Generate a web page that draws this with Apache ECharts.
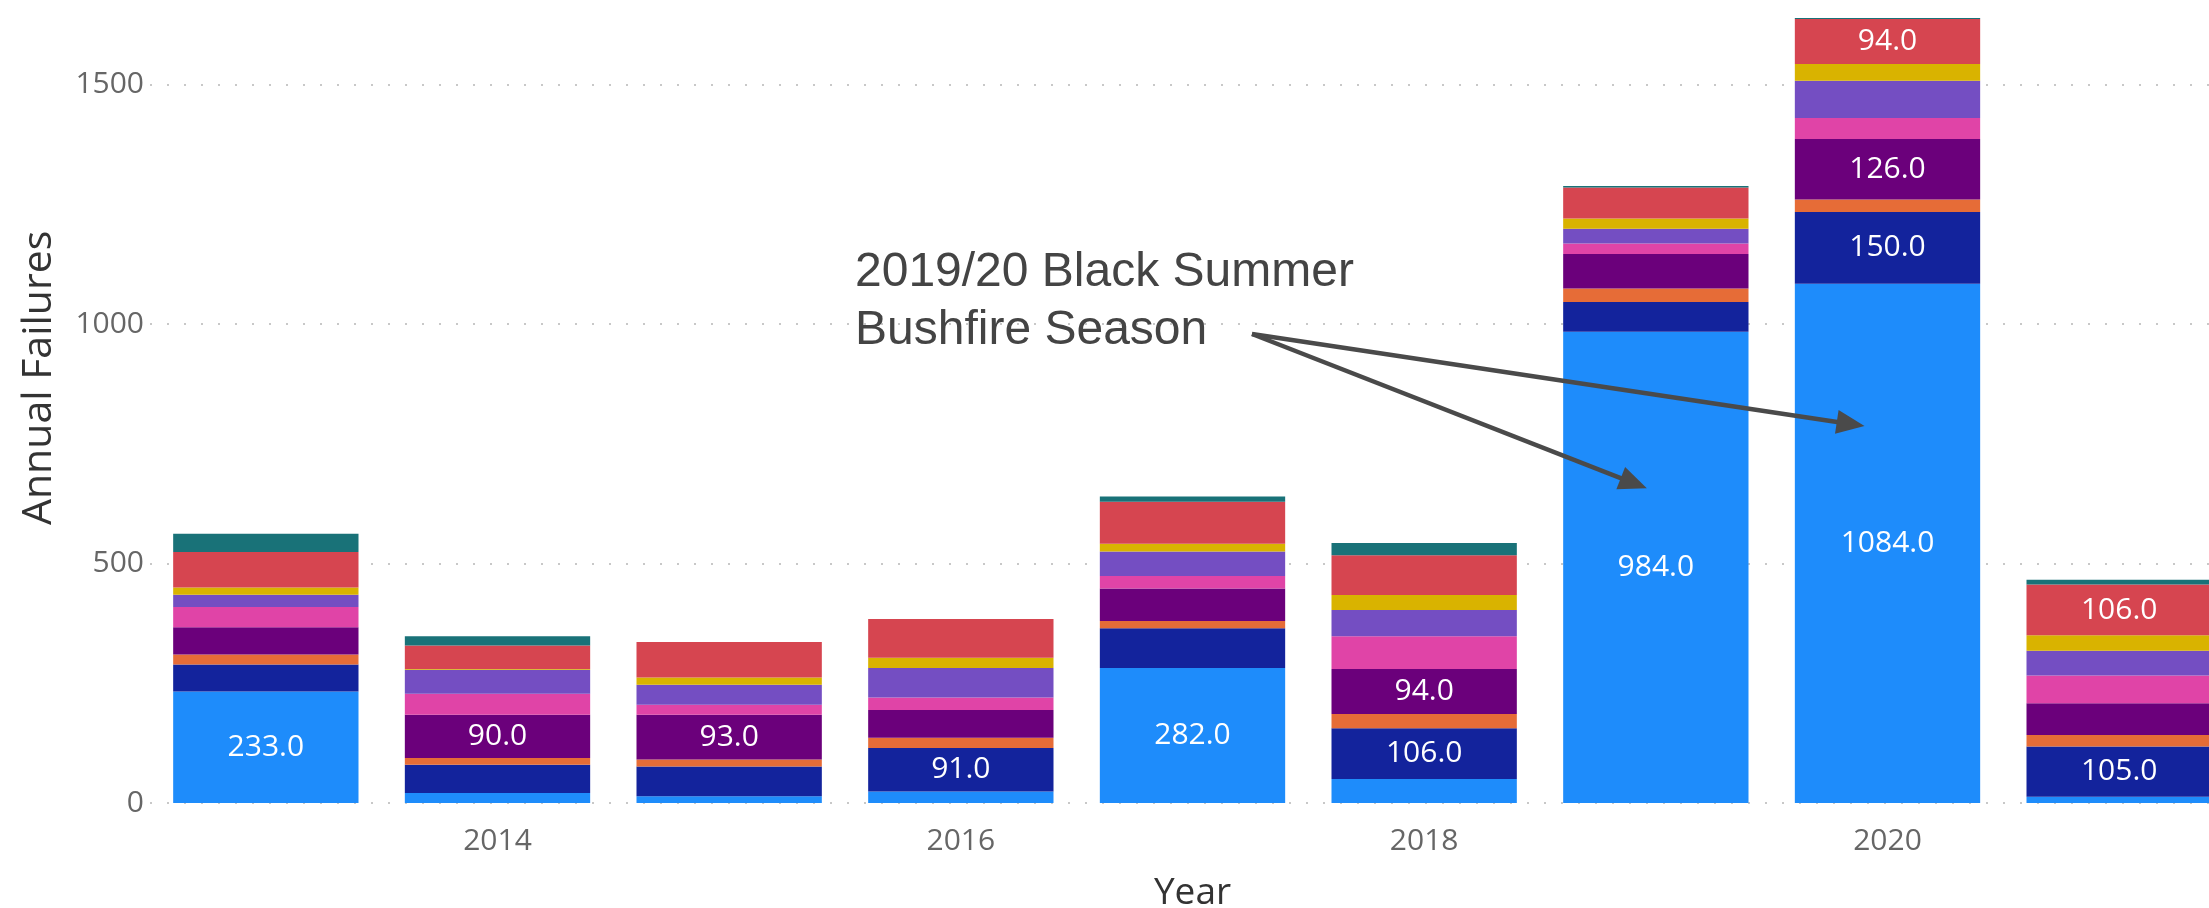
<!DOCTYPE html>
<html>
<head>
<meta charset="utf-8">
<script src="https://cdn.jsdelivr.net/npm/echarts@6/dist/echarts.min.js"></script>
<style>
html,body{margin:0;padding:0;background:#ffffff;}
#chart{width:2209px;height:908px;}
</style>
</head>
<body>
<div id="chart"></div>
<script>
// ---- Data ----
const years = ['2013','2014','2015','2016','2017','2018','2019','2020','2021'];
const yTickValues = [0, 500, 1000, 1500];
const seriesNames = ['Category 1','Category 2','Category 3','Category 4','Category 5','Category 6','Category 7','Category 8','Category 9'];
const cat1 = [233, 21, 14, 24, 282, 50, 984, 1084, 13];
const cat2 = [56, 59, 62, 91, 83, 106, 62, 150, 105];
const cat3 = [21, 14, 15, 21, 15, 30, 28, 26, 24];
const cat4 = [57, 90, 93, 58, 68, 94, 72, 126, 66];
const cat5 = [42, 44, 21, 26, 26, 68, 22, 44, 58];
const cat6 = [26, 50, 42, 62, 51, 55, 31, 78, 52];
const cat7 = [15, 2, 15, 21, 16, 31, 21, 35, 32];
const cat8 = [74, 49, 74, 81, 88, 83, 65, 94, 106];
const cat9 = [38, 19, 0, 0, 11, 26, 3, 2, 10];
const labelThreshold = 90;
const annotationText = ['2019/20 Black Summer', 'Bushfire Season'];
const arrowTargets = [['2019', 657], ['2020', 787]];

const palette = ['#1E8CFB','#13239C','#E66C37','#6B007B','#E044A7','#744EC2','#D9B300','#D64550','#197278'];
const allSeries = [cat1, cat2, cat3, cat4, cat5, cat6, cat7, cat8, cat9];

const chart = echarts.init(document.getElementById('chart'), null, {renderer: 'canvas'});

const series = allSeries.map((d, i) => ({
  name: seriesNames[i],
  type: 'bar',
  stack: 'total',
  data: d,
  barCategoryGap: '20%',
  itemStyle: {color: palette[i]},
  label: {
    show: true,
    position: 'inside',
    color: '#ffffff',
    fontFamily: 'Open Sans',
    fontSize: 30,
    formatter: p => (p.value >= labelThreshold ? p.value.toFixed(1) : '')
  },
  emphasis: {disabled: true}
}));

chart.setOption({
  animation: false,
  backgroundColor: '#ffffff',
  legend: {show: false},
  grid: {left: 150, top: 12.65, width: 2085, height: 790.35, containLabel: false, outerBoundsMode: 'none'},
  xAxis: {
    type: 'category',
    data: years,
    name: 'Year',
    nameLocation: 'middle',
    nameGap: 72,
    nameTextStyle: {fontFamily: 'Open Sans', fontSize: 37, color: '#333333'},
    axisLine: {show: false},
    axisTick: {show: false},
    axisLabel: {
      interval: (idx) => idx % 2 === 1,
      margin: 23,
      fontFamily: 'Open Sans',
      fontSize: 30,
      color: '#666666'
    }
  },
  yAxis: {
    type: 'value',
    min: 0,
    max: 1650,
    interval: 500,
    name: 'Annual Failures',
    nameLocation: 'middle',
    nameGap: 90,
    nameTextStyle: {fontFamily: 'Open Sans', fontSize: 41, color: '#333333', padding: [0, 0, 0, 60]},
    axisLine: {show: false},
    axisTick: {show: false},
    axisLabel: {
      margin: 6,
      showMaxLabel: false,
      fontFamily: 'Open Sans',
      fontSize: 30,
      color: '#666666',
      formatter: v => (yTickValues.indexOf(v) >= 0 ? String(v) : '')
    },
    splitLine: {
      show: true,
      showMaxLine: false,
      lineStyle: {color: '#c8c8c8', width: 2, type: [2, 15]}
    }
  },
  series: series
});

// ---- Annotation (text + arrows pointing to the 2019 and 2020 bars) ----
function buildAnnotation() {
  const start = [1252, 334];
  const tipOffsets = [-9, -23];
  const headLen = 28, headHalf = 12;
  const elements = [];
  elements.push({
    type: 'text',
    left: 855,
    top: 244,
    z: 100,
    silent: true,
    style: {
      text: annotationText.join('\n'),
      fontFamily: 'Liberation Sans',
      fontSize: 48,
      lineHeight: 58,
      fill: '#444444'
    }
  });
  arrowTargets.forEach((t, i) => {
    const p = chart.convertToPixel({gridIndex: 0}, [years.indexOf(t[0]), t[1]]);
    const tip = [p[0] + tipOffsets[i], p[1]];
    const dx = tip[0] - start[0], dy = tip[1] - start[1];
    const len = Math.sqrt(dx * dx + dy * dy);
    const ux = dx / len, uy = dy / len;
    const base = [tip[0] - ux * headLen, tip[1] - uy * headLen];
    const nx = -uy, ny = ux;
    elements.push({
      type: 'line',
      z: 100,
      silent: true,
      shape: {x1: start[0], y1: start[1], x2: base[0] + ux * 2, y2: base[1] + uy * 2},
      style: {stroke: '#4a4a4a', lineWidth: 4.5}
    });
    elements.push({
      type: 'polygon',
      z: 100,
      silent: true,
      shape: {points: [tip, [base[0] + nx * headHalf, base[1] + ny * headHalf], [base[0] - nx * headHalf, base[1] - ny * headHalf]]},
      style: {fill: '#4a4a4a'}
    });
  });
  chart.setOption({graphic: {elements: elements}});
}
buildAnnotation();
</script>
</body>
</html>
